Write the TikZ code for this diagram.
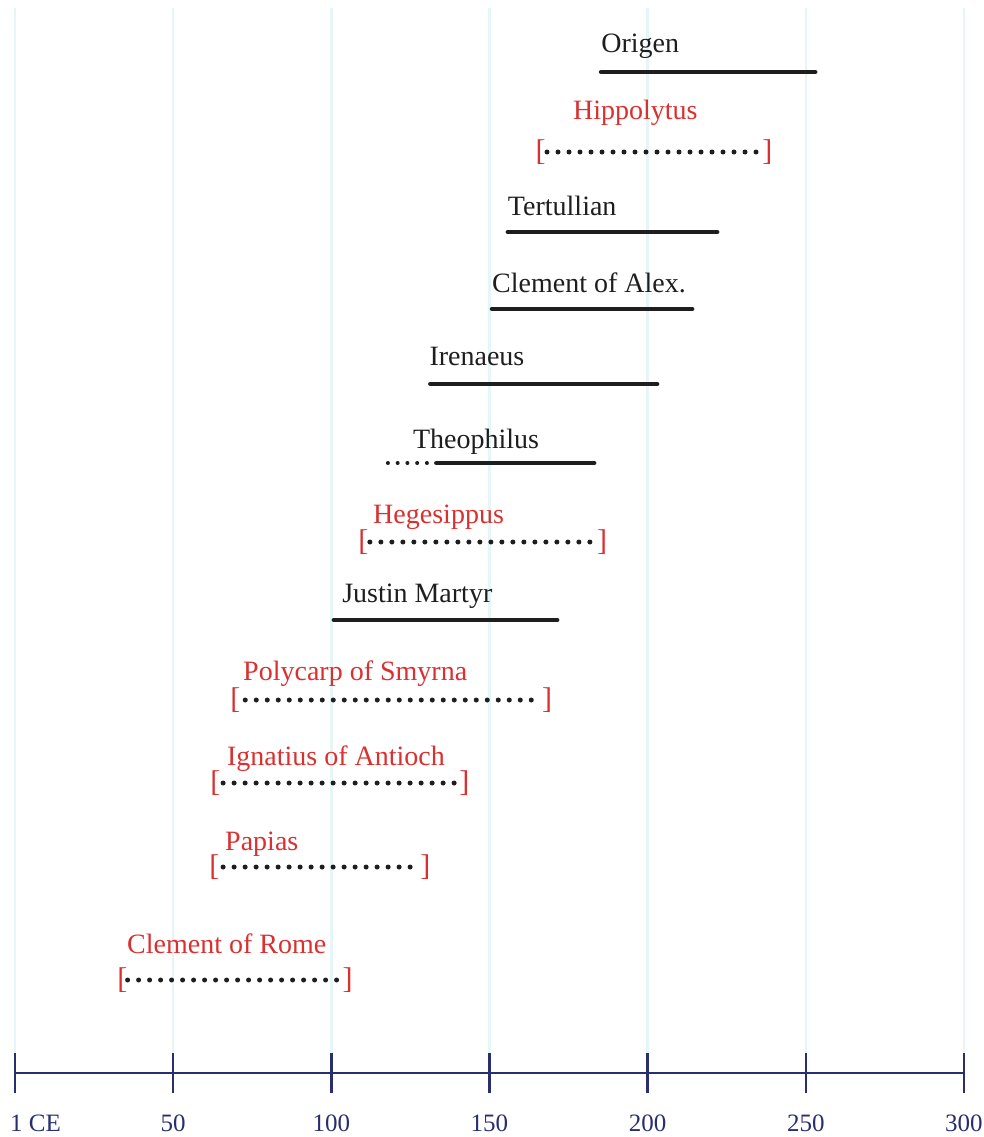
\documentclass[tikz,border=0pt]{standalone}
\usepackage{fontspec}
\setmainfont{Liberation Serif}
\definecolor{axisblue}{RGB}{40,46,110}
\definecolor{gridcyan}{RGB}{230,246,246}
\definecolor{namered}{RGB}{218,48,48}
\definecolor{nameblack}{RGB}{30,30,30}

\begin{document}
\begin{tikzpicture}[x=3.163pt, y=-1pt, % one unit = one year
    person/.style={anchor=base west, inner sep=0pt, font=\fontsize{28}{30}\selectfont, text=nameblack},
    rperson/.style={person, text=namered},
    lbrack/.style={anchor=west, inner sep=0pt, font=\fontsize{30}{32}\selectfont, text=namered},
    rbrack/.style={lbrack, anchor=east},
    life/.style={line width=4.5pt, line cap=round, nameblack},
    dots/.style={line width=5pt, line cap=round, dash pattern=on 0pt off 11pt, nameblack},
    year/.style={anchor=base, inner sep=0pt, font=\fontsize{25}{28}\selectfont, text=axisblue}]

    \useasboundingbox (-4.74,0) rectangle (306.35,1137);

    % Grid
    \foreach \yr in {0,50,...,300}
        \draw[gridcyan, line width=2.5pt] (\yr,8) -- (\yr,1073);

    % Axis
    \coordinate (start) at (0,1073);
    \coordinate (end) at (300,1073);
    \draw[axisblue, line width=2.5pt] (start) -- (end);
    \foreach \yr in {0,50,...,300}
        \draw[axisblue, line width=2.5pt] (\yr,1053) -- (\yr,1093);
    \node[year, anchor=base west] (y0) at (-1.6,1131) {1 CE};
    \foreach \yr in {50,100,...,300}
        \node[year] (y\yr) at (\yr,1131) {\yr};

    % Origen
    \node[person] (origen) at (185.3,53) {Origen};
    \coordinate (origen-a) at (185.3,72);
    \coordinate (origen-b) at (253.0,72);
    \draw[life] (origen-a) -- (origen-b);

    % Hippolytus
    \node[rperson] (hippolytus) at (176.4,120) {Hippolytus};
    \node[lbrack] (hippolytus-l) at (164.5,152) {[};
    \node[rbrack] (hippolytus-r) at (239.5,152) {]};
    \coordinate (hippolytus-a) at (168.2,152);
    \coordinate (hippolytus-b) at (234.6,152);
    \draw[dots] (hippolytus-a) -- (hippolytus-b);

    % Tertullian
    \node[person] (tertullian) at (155.8,215) {Tertullian};
    \coordinate (tertullian-a) at (155.8,232);
    \coordinate (tertullian-b) at (222.0,232);
    \draw[life] (tertullian-a) -- (tertullian-b);

    % Clement of Alexandria
    \node[person] (clemalex) at (150.8,292) {Clement of Alex.};
    \coordinate (clemalex-a) at (150.8,309);
    \coordinate (clemalex-b) at (214.1,309);
    \draw[life] (clemalex-a) -- (clemalex-b);

    % Irenaeus
    \node[person] (irenaeus) at (131.0,365) {Irenaeus};
    \coordinate (irenaeus-a) at (131.3,384);
    \coordinate (irenaeus-b) at (203.0,384);
    \draw[life] (irenaeus-a) -- (irenaeus-b);

    % Theophilus
    \node[person] (theophilus) at (125.8,448) {Theophilus};
    \coordinate (theophilus-c) at (117.9,463);
    \coordinate (theophilus-d) at (130.4,463);
    \coordinate (theophilus-a) at (133.2,463);
    \coordinate (theophilus-b) at (183.1,463);
    \draw[dots, line width=4pt, dash pattern=on 0pt off 9.75pt] (theophilus-c) -- (theophilus-d);
    \draw[life] (theophilus-a) -- (theophilus-b);

    % Hegesippus
    \node[rperson] (hegesippus) at (113.2,523) {Hegesippus};
    \node[lbrack] (hegesippus-l) at (108.5,542) {[};
    \node[rbrack] (hegesippus-r) at (187.3,542) {]};
    \coordinate (hegesippus-a) at (112.2,542);
    \coordinate (hegesippus-b) at (181.9,542);
    \draw[dots] (hegesippus-a) -- (hegesippus-b);

    % Justin Martyr
    \node[person] (justin) at (103.4,602) {Justin Martyr};
    \coordinate (justin-a) at (100.8,620);
    \coordinate (justin-b) at (171.4,620);
    \draw[life] (justin-a) -- (justin-b);

    % Polycarp of Smyrna
    \node[rperson] (polycarp) at (72.1,680) {Polycarp of Smyrna};
    \node[lbrack] (polycarp-l) at (68.0,700) {[};
    \node[rbrack] (polycarp-r) at (169.9,700) {]};
    \coordinate (polycarp-a) at (72.8,700);
    \coordinate (polycarp-b) at (163.4,700);
    \draw[dots] (polycarp-a) -- (polycarp-b);

    % Ignatius of Antioch
    \node[rperson] (ignatius) at (67.0,765) {Ignatius of Antioch};
    \node[lbrack] (ignatius-l) at (61.7,783) {[};
    \node[rbrack] (ignatius-r) at (143.7,783) {]};
    \coordinate (ignatius-a) at (65.8,783);
    \coordinate (ignatius-b) at (138.9,783);
    \draw[dots] (ignatius-a) -- (ignatius-b);

    % Papias
    \node[rperson] (papias) at (66.4,850) {Papias};
    \node[lbrack] (papias-l) at (61.4,867) {[};
    \node[rbrack] (papias-r) at (131.4,867) {]};
    \coordinate (papias-a) at (65.8,867);
    \coordinate (papias-b) at (125.0,867);
    \draw[dots] (papias-a) -- (papias-b);

    % Clement of Rome
    \node[rperson] (clemrome) at (35.4,953) {Clement of Rome};
    \node[lbrack] (clemrome-l) at (32.3,980) {[};
    \node[rbrack] (clemrome-r) at (106.8,980) {]};
    \coordinate (clemrome-a) at (35.6,980);
    \coordinate (clemrome-b) at (101.8,980);
    \draw[dots] (clemrome-a) -- (clemrome-b);
\end{tikzpicture}
\end{document}
